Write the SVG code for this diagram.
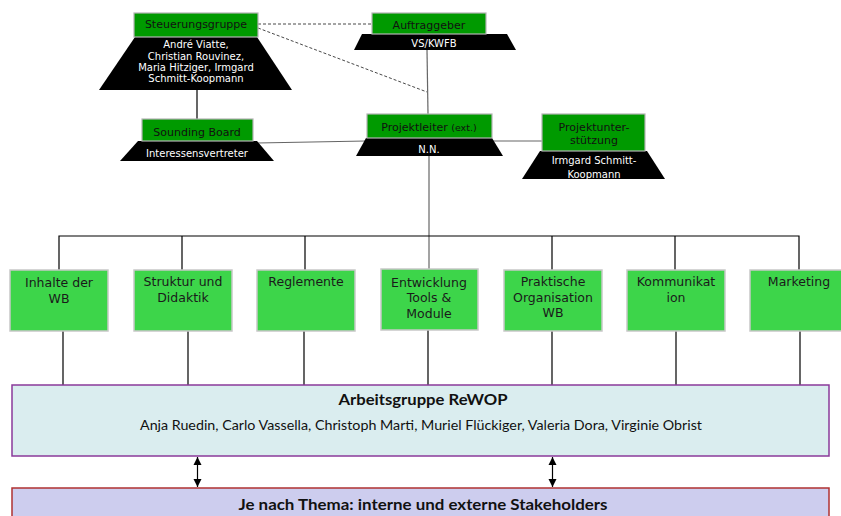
<svg xmlns="http://www.w3.org/2000/svg" width="841" height="516" viewBox="0 0 841 516">
<defs>
<style>
.g{fill:#009a00;stroke:#b4b4b4;stroke-width:1.2}
.t{fill:#000}
.lb{font-family:"DejaVu Sans",Verdana,sans-serif;font-size:11px;fill:#111;text-anchor:middle}
.wt{font-family:"DejaVu Sans",Verdana,sans-serif;font-size:10px;fill:#fff;text-anchor:middle}
.wb{fill:#3dd54a;stroke:#c8c8c8;stroke-width:1.5}
.wl{font-family:"DejaVu Sans",Verdana,sans-serif;font-size:12.5px;fill:#1a1a1a;text-anchor:middle}
.ln{stroke:#000;stroke-width:1.2;fill:none}
.gl{stroke:#666;stroke-width:1.2;fill:none}
.ds{stroke:#333;stroke-width:0.9;stroke-dasharray:3,2;fill:none}
.cal{font-family:Lato,"Open Sans",sans-serif;fill:#111;text-anchor:middle}
</style>
<marker id="ah" viewBox="0 0 8 10" refX="8" refY="5" markerWidth="8" markerHeight="10" markerUnits="userSpaceOnUse" orient="auto-start-reverse">
<path d="M0,1 L8,5 L0,9 Z" fill="#000"/>
</marker>
</defs>
<rect width="841" height="516" fill="#fff"/>
<g id="connectors">
<line class="ln" x1="197" y1="90" x2="197" y2="119"/>
<line class="ds" x1="258" y1="24" x2="372" y2="24"/>
<line class="ds" x1="258" y1="28" x2="427" y2="92"/>
<line class="gl" x1="427" y1="50" x2="428" y2="114"/>
<line class="gl" x1="257" y1="143" x2="366" y2="141"/>
<line class="gl" x1="492" y1="141" x2="542" y2="141"/>
<line class="gl" x1="429" y1="156" x2="429" y2="270"/>
<path class="ln" d="M59,270 V236 H799 V270 M182,236 V270 M305,236 V270 M552,236 V270 M675,236 V270"/>
<path class="ln" d="M63,326 V385 M188,326 V385 M304,326 V385 M428,326 V385 M552,326 V385 M676,326 V385 M800,326 V385"/>
<line class="ln" x1="197.5" y1="457" x2="197.5" y2="487" stroke-width="1" marker-start="url(#ah)" marker-end="url(#ah)"/>
<line class="ln" x1="552.5" y1="457" x2="552.5" y2="487" stroke-width="1" marker-start="url(#ah)" marker-end="url(#ah)"/>
</g>
<g id="steuerungsgruppe">
<polygon class="t" points="135,37 257,37 292,90 99,90"/>
<rect class="g" x="134" y="13" width="124" height="24"/>
<text class="lb" x="196" y="28">Steuerungsgruppe</text>
<text class="wt" x="196" y="48">André Viatte,</text>
<text class="wt" x="196" y="59.5">Christian Rouvinez,</text>
<text class="wt" x="196" y="71">Maria Hitziger, Irmgard</text>
<text class="wt" x="196" y="82">Schmitt-Koopmann</text>
</g>
<g id="auftraggeber">
<polygon class="t" points="362,34 507,34 516,50 354,50"/>
<rect class="g" x="372" y="13" width="114" height="21"/>
<text class="lb" x="429" y="29">Auftraggeber</text>
<text class="wt" x="434" y="46.5">VS/KWFB</text>
</g>
<g id="soundingboard">
<polygon class="t" points="138,141 257,141 274,161 120,161"/>
<rect class="g" x="142" y="119" width="111" height="22"/>
<text class="lb" x="197" y="136">Sounding Board</text>
<text class="wt" x="197" y="156.5">Interessensvertreter</text>
</g>
<g id="projektleiter">
<polygon class="t" points="366,138 492,138 503,156 356,156"/>
<rect class="g" x="367" y="114" width="125" height="24"/>
<text class="lb" x="429" y="130.5">Projektleiter <tspan font-size="9.5">(ext.)</tspan></text>
<text class="wt" x="429" y="152.5">N.N.</text>
</g>
<g id="projektunterstuetzung">
<polygon class="t" points="540,151 647,151 665,179 522,179"/>
<rect class="g" x="542" y="114" width="103" height="37"/>
<text class="lb" x="594" y="131">Projektunter-</text>
<text class="lb" x="594" y="144">stützung</text>
<text class="wt" x="594" y="164">Irmgard Schmitt-</text>
<text class="wt" x="594" y="177.5">Koopmann</text>
</g>
<g id="inhalte">
<rect class="wb" x="10" y="270" width="98" height="61"/>
<text class="wl" x="59" y="287">Inhalte der</text>
<text class="wl" x="59" y="302.5">WB</text>
</g>
<g id="struktur">
<rect class="wb" x="134" y="270" width="98" height="61"/>
<text class="wl" x="183" y="286">Struktur und</text>
<text class="wl" x="183" y="301.5">Didaktik</text>
</g>
<g id="reglemente">
<rect class="wb" x="257" y="270" width="98" height="61"/>
<text class="wl" x="306" y="286">Reglemente</text>
</g>
<g id="entwicklung">
<rect class="wb" x="381" y="269" width="97" height="61"/>
<text class="wl" x="429" y="286.5">Entwicklung</text>
<text class="wl" x="429" y="301.5">Tools &amp;</text>
<text class="wl" x="429" y="317.5">Module</text>
</g>
<g id="praktische">
<rect class="wb" x="504" y="270" width="98" height="61"/>
<text class="wl" x="553" y="286">Praktische</text>
<text class="wl" x="553" y="301.5">Organisation</text>
<text class="wl" x="553" y="317">WB</text>
</g>
<g id="kommunikation">
<rect class="wb" x="627" y="270" width="98" height="61"/>
<text class="wl" x="676" y="286">Kommunikat</text>
<text class="wl" x="676" y="301.5">ion</text>
</g>
<g id="marketing">
<rect class="wb" x="750" y="270" width="98" height="61"/>
<text class="wl" x="799" y="286">Marketing</text>
</g>
<g id="arbeitsgruppe">
<rect x="12" y="385" width="817" height="71" fill="#daedef" stroke="#8a3a9a" stroke-width="1.5"/>
<text class="cal" x="423" y="405" font-size="15" font-weight="bold" textLength="169" lengthAdjust="spacingAndGlyphs">Arbeitsgruppe ReWOP</text>
<text class="cal" x="421" y="430" font-size="13.5" textLength="562" lengthAdjust="spacingAndGlyphs">Anja Ruedin, Carlo Vassella, Christoph Marti, Muriel Flückiger, Valeria Dora, Virginie Obrist</text>
</g>
<g id="stakeholders">
<rect x="12" y="488" width="817" height="40" fill="#cdcdee" stroke="#b03232" stroke-width="1.5"/>
<text class="cal" x="423" y="510" font-size="15" font-weight="bold" textLength="369" lengthAdjust="spacingAndGlyphs">Je nach Thema: interne und externe Stakeholders</text>
</g>
</svg>
